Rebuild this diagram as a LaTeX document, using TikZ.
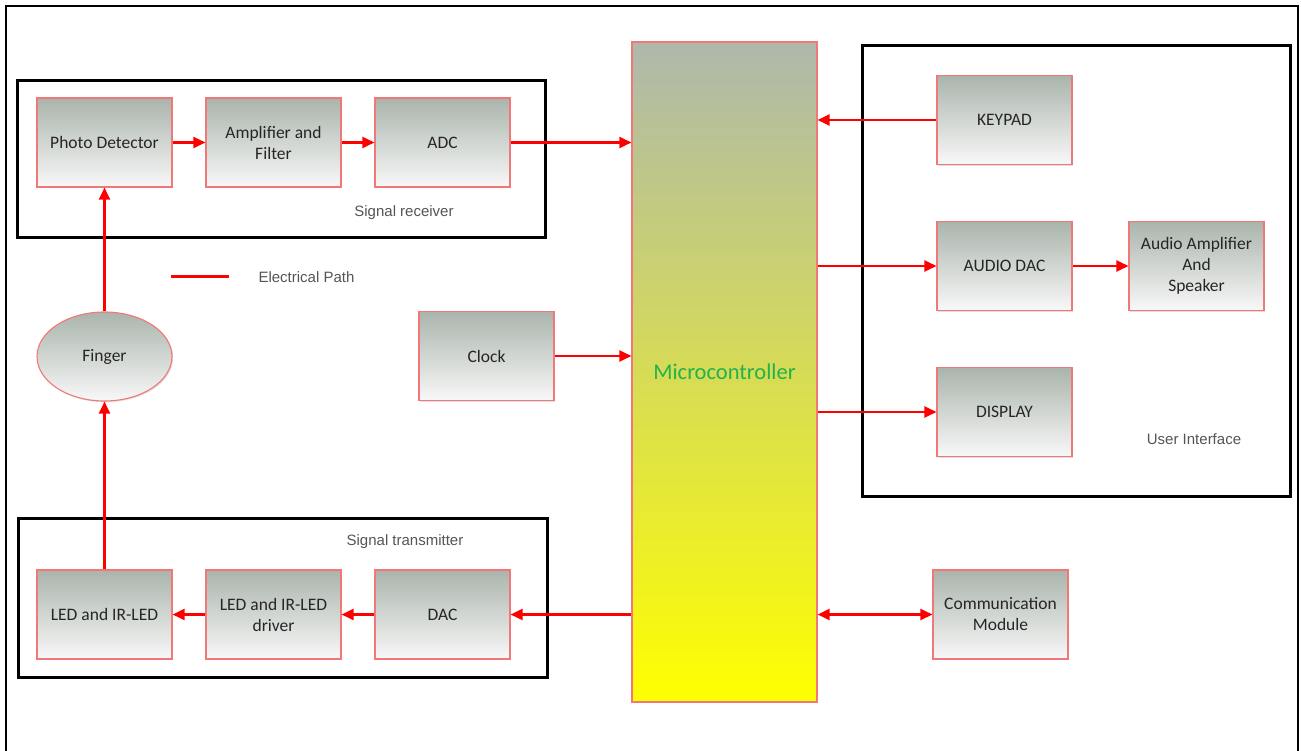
\documentclass[tikz,border=0pt]{standalone}
\usepackage{fontspec}
\setmainfont{Carlito}
\newfontfamily\labelfont{Liberation Sans}
\usetikzlibrary{arrows.meta,shapes.geometric,shadows}
\definecolor{boxtop}{HTML}{AAB4AC}
\definecolor{boxbot}{HTML}{F8F8F8}
\definecolor{boxline}{HTML}{F27878}
\definecolor{mctop}{HTML}{AEB8AC}
\definecolor{mcbot}{HTML}{FFFF00}
\definecolor{mctext}{HTML}{22B24C}
\definecolor{labelgray}{HTML}{555555}
\tikzset{
  blk/.style={draw=boxline, line width=1.1pt, top color=boxtop, bottom color=boxbot,
    minimum width=135pt, minimum height=89pt, align=center, inner sep=2pt,
    font=\fontsize{17.5}{21}\selectfont, text=black!85,
    drop shadow={shadow xshift=1.2pt, shadow yshift=-1.2pt, opacity=0.25, fill=gray}},
  frame/.style={draw=black, line width=3pt},
  wire/.style={draw=red, line width=2.4pt, -{Triangle[length=12pt,width=11pt]}},
  wire2/.style={draw=red, line width=2.4pt, {Triangle[length=12pt,width=11pt]}-{Triangle[length=12pt,width=11pt]}},
  lbl/.style={font=\labelfont\fontsize{15}{18}\selectfont, text=labelgray},
}
\begin{document}
\begin{tikzpicture}[x=1pt,y=-1pt]
\useasboundingbox (0,0) rectangle (1301,751);
\fill[white] (0,0) rectangle (1301,751);
% outer frame
\draw[line width=2.5pt] (6,751) -- (6,6) -- (1298,6) -- (1298,751);
% group frames
\draw[frame] (17,81) rectangle (545,238);
\draw[frame] (18,518) rectangle (547,677);
\draw[frame] (862,46) rectangle (1290,496);
% labels
\node[lbl] (lrec) at (404,213) {Signal receiver};
\node[lbl] (ltx) at (405,542) {Signal transmitter};
\node[lbl] (lui) at (1194,439) {User Interface};
\node[lbl, anchor=west] (lep) at (255,277) {Electrical Path};
\coordinate (lega) at (171,277);
\coordinate (legb) at (229,277);
\draw[red, line width=3pt] (lega) -- (legb);
% microcontroller
\node[draw=boxline, line width=1.1pt, top color=mctop, bottom color=mcbot,
      minimum width=185pt, minimum height=660pt, inner sep=0pt,
      drop shadow={shadow xshift=1.2pt, shadow yshift=-1.2pt, opacity=0.25, fill=gray}] (mc) at (724.5,372) {};
\node[font=\fontsize{22.5}{26}\selectfont, text=mctext] (mct) at (724.5,372) {Microcontroller};
% blocks
\node[blk] (pd) at (104.5,142.5) {Photo Detector};
\node[blk] (amp) at (273.5,142.5) {Amplifier and\\Filter};
\node[blk] (adc) at (442.5,142.5) {ADC};
\node[blk] (led) at (104.5,614.5) {LED and IR-LED};
\node[blk] (drv) at (273.5,614.5) {LED and IR-LED\\driver};
\node[blk] (dac) at (442.5,614.5) {DAC};
\node[blk] (clk) at (486.5,356) {Clock};
\node[blk] (key) at (1004.5,120) {KEYPAD};
\node[blk] (adac) at (1004.5,266) {AUDIO DAC};
\node[blk] (aamp) at (1196.5,266) {Audio Amplifier\\And\\Speaker};
\node[blk] (disp) at (1004.5,412) {DISPLAY};
\node[blk] (comm) at (1000.5,614.5) {Communication\\Module};
\node[ellipse, draw=boxline, line width=1.1pt, top color=boxtop, bottom color=boxbot,
      minimum width=135pt, minimum height=89pt, inner sep=0pt,
      font=\fontsize{17.5}{21}\selectfont, text=black!85,
      drop shadow={shadow xshift=1.2pt, shadow yshift=-1.2pt, opacity=0.25, fill=gray}] (fng) at (104.5,356.5) {Finger};
% connectors
\draw[wire] (pd.east) -- (amp.west);
\draw[wire] (amp.east) -- (adc.west);
\draw[wire] (adc.east) -- (adc.east -| mc.west);
\draw[wire] (clk.east) -- (clk.east -| mc.west);
\draw[wire] (key.west) -- (key.west -| mc.east);
\draw[wire] (adac.west -| mc.east) -- (adac.west);
\draw[wire] (adac.east) -- (aamp.west);
\draw[wire] (disp.west -| mc.east) -- (disp.west);
\draw[wire2] (comm.west -| mc.east) -- (comm.west);
\draw[wire] (dac.east -| mc.west) -- (dac.east);
\draw[wire] (dac.west) -- (drv.east);
\draw[wire] (drv.west) -- (led.east);
\draw[wire] (led.north) -- (fng.south);
\draw[wire] (fng.north) -- (pd.south);
\end{tikzpicture}
\end{document}
